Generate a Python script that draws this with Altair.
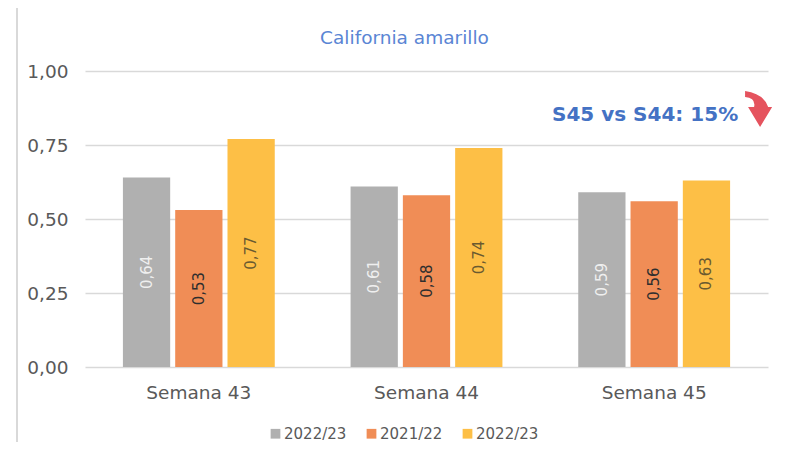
import altair as alt
import pandas as pd

weeks = ["Semana 43", "Semana 44", "Semana 45"]
series_keys = ["s1", "s2", "s3"]
series_labels = ["2022/23", "2021/22", "2022/23"]
values_s1 = [0.64, 0.61, 0.59]
values_s2 = [0.53, 0.58, 0.56]
values_s3 = [0.77, 0.74, 0.63]
y_ticks = [0, 0.25, 0.5, 0.75, 1.0]
title_text = "California amarillo"
title_week = "Semana 44"
title_value = 1.11
note_text = "S45 vs S44: 15%"
note_week = "Semana 45"
note_value = 0.85
arrow_value = 0.868

bar_colors = ["#B0B0B0", "#F08D56", "#FDBF46"]
label_colors = ["#EFEFEF", "#2E2E2E", "#6A5A30"]
FONT = "DejaVu Sans"

rows = []
for key, vals in zip(series_keys, [values_s1, values_s2, values_s3]):
    for w, v in zip(weeks, vals):
        rows.append({"week": w, "series": key, "value": v})
df = pd.DataFrame(rows)

legend_expr = " : ".join(
    f"datum.value == '{k}' ? '{l}'" for k, l in zip(series_keys[:-1], series_labels[:-1])
) + f" : '{series_labels[-1]}'"

x_enc = alt.X("week:N", sort=weeks, title=None,
              scale=alt.Scale(paddingInner=0.333, paddingOuter=0.1665),
              axis=alt.Axis(labelAngle=0, ticks=False, domain=False, labelFontSize=18.5,
                            labelColor="#595959", labelFont=FONT, labelPadding=16))
y_scale = alt.Scale(domain=[0, 1], nice=False)
xoff = alt.XOffset("series:N", sort=series_keys,
                   scale=alt.Scale(paddingInner=0.096, paddingOuter=0))

base = alt.Chart(df)

bars = base.mark_bar().encode(
    x=x_enc,
    xOffset=xoff,
    y=alt.Y("value:Q", scale=y_scale, title=None,
            axis=alt.Axis(values=y_ticks, ticks=False, domain=False, labelFontSize=18.5,
                          labelColor="#595959", labelFont=FONT, labelPadding=17,
                          gridColor="#D9D9D9", gridWidth=1.5,
                          labelExpr="replace(format(datum.value, '.2f'), '.', ',')")),
    color=alt.Color("series:N", sort=series_keys,
                    scale=alt.Scale(domain=series_keys, range=bar_colors),
                    legend=alt.Legend(title=None, orient="none", direction="horizontal",
                                      legendX=183, legendY=355, symbolType="square",
                                      symbolSize=95, symbolStrokeWidth=0,
                                      labelFontSize=15, labelColor="#595959", labelFont=FONT,
                                      labelOffset=1, columnPadding=17,
                                      labelExpr=legend_expr)),
)

labels = base.transform_calculate(
    mid="datum.value / 2",
    txt="replace(format(datum.value, '.2f'), '.', ',')",
).mark_text(angle=270, fontSize=15, font=FONT, align="center", baseline="middle").encode(
    x=alt.X("week:N", sort=weeks),
    xOffset=xoff,
    y=alt.Y("mid:Q", scale=y_scale),
    text="txt:N",
    color=alt.Color("series:N", sort=series_keys,
                    scale=alt.Scale(domain=series_keys, range=label_colors), legend=None),
)

title_df = pd.DataFrame({"week": [title_week], "value": [title_value], "txt": [title_text]})
title = alt.Chart(title_df).mark_text(
    fontSize=18.5, font=FONT, color="#5A85D4", align="center", baseline="middle", dx=-22,
).encode(x=alt.X("week:N", sort=weeks), y=alt.Y("value:Q", scale=y_scale), text="txt:N")

note_df = pd.DataFrame({"week": [note_week], "value": [note_value], "txt": [note_text]})
note = alt.Chart(note_df).mark_text(
    fontSize=20, fontWeight="bold", font=FONT, color="#4472C4", align="right",
    baseline="middle", dx=84,
).encode(x=alt.X("week:N", sort=weeks), y=alt.Y("value:Q", scale=y_scale), text="txt:N")

# curved arrow glyph (shape units: 1 unit = 15 px), shifted to the right of the note
arrow_path = ("M 6.06 -1.27 Q 7.33 -1.07 7.6 -0.2 L 7.86 -0.2 L 7.06 1.13 "
              "L 6.26 -0.2 L 6.66 -0.2 Q 6.8 -0.8 6.06 -0.87 Z")
arrow_df = pd.DataFrame({"week": [note_week], "value": [arrow_value]})
arrow = alt.Chart(arrow_df).mark_point(
    shape=arrow_path, size=900, filled=True, color="#E5535E", opacity=1, strokeWidth=0,
).encode(x=alt.X("week:N", sort=weeks), y=alt.Y("value:Q", scale=y_scale))

frame_df = pd.DataFrame({"a": [0]})
frame_v = alt.Chart(frame_df).mark_rule(color="#D9D9D9", strokeWidth=2).encode(
    x=alt.value(-68), y=alt.value(-64), y2=alt.value(371))
frame_h = alt.Chart(frame_df).mark_rule(color="#D9D9D9", strokeWidth=2).encode(
    x=alt.value(-68), x2=alt.value(687), y=alt.value(-64))

chart = alt.layer(frame_v, frame_h, bars, labels, title, note, arrow).resolve_scale(
    color="independent"
).properties(
    width=683, height=296,
    padding={"left": 77, "top": 63, "right": 4, "bottom": 75},
    autosize=alt.AutoSizeParams(type="none"),
).configure_view(stroke=None)

chart.save("out.html", embed_options={"renderer": "svg", "actions": False})
